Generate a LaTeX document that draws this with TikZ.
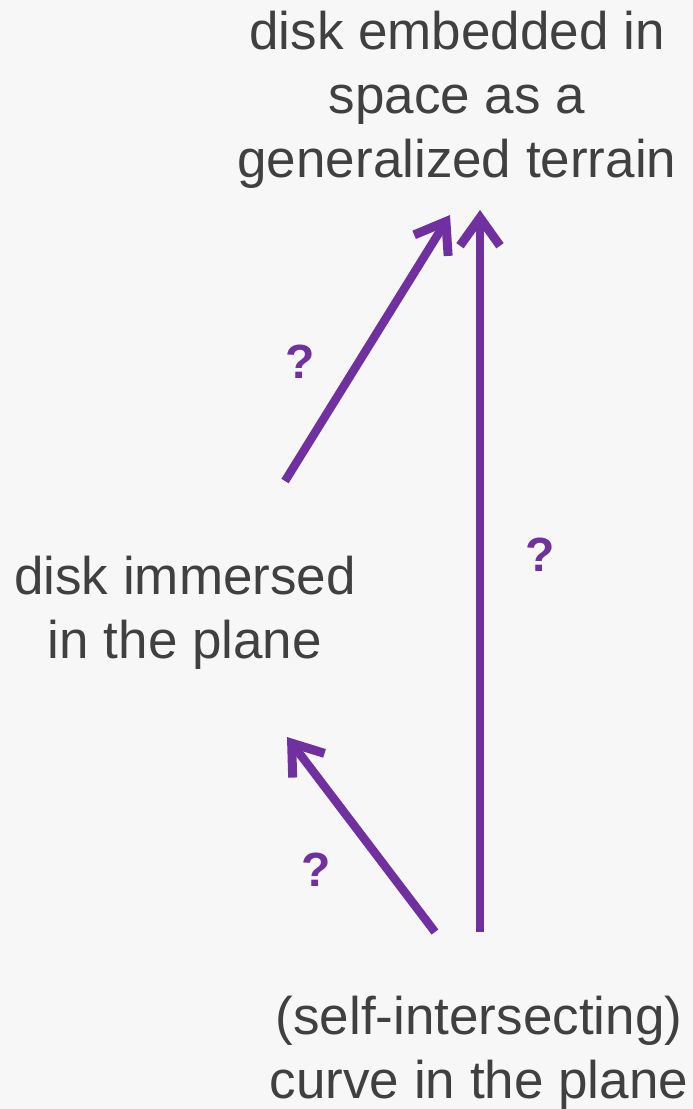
\documentclass[tikz,border=0pt]{standalone}
\usepackage{fontspec}
\setmainfont{Liberation Sans}
\usetikzlibrary{arrows.meta}
\definecolor{txt}{HTML}{404040}
\definecolor{purp}{HTML}{7030A0}
\definecolor{bg}{HTML}{F7F7F7}
\tikzset{
  label text/.style={text=txt, align=center, inner sep=0pt, anchor=base,
    font=\fontsize{53}{64}\selectfont},
  qmark/.style={text=purp, inner sep=0pt, font=\fontsize{48}{48}\selectfont\bfseries},
  purparrow/.style={draw=purp, line width=8.5pt,
    -{Straight Barb[length=28pt, width=40pt, line width=9pt]}},
}
\begin{document}
\begin{tikzpicture}[x=1pt, y=-1pt]
\fill[bg] (0,0) rectangle (693,1109);
\useasboundingbox (0,0) rectangle (693,1109);
\node[label text] (top) at (457,177) {disk embedded in\\space as a\\generalized terrain};
\node[label text] (mid) at (185,658) {disk immersed\\in the plane};
\node[label text] (bot) at (479,1098) {(self-intersecting)\\curve in the plane};
\coordinate (v1) at (480,932);
\coordinate (v2) at (480,210);
\coordinate (d1) at (285,481);
\coordinate (d2) at (450,215);
\coordinate (l1) at (435,932);
\coordinate (l2) at (287,737);
\draw[purparrow] (v1) -- (v2);
\draw[purparrow] (d1) -- (d2);
\draw[purparrow] (l1) -- (l2);
\node[qmark] (q1) at (300,362) {?};
\node[qmark] (q2) at (540,555) {?};
\node[qmark] (q3) at (316,870) {?};
\end{tikzpicture}
\end{document}
